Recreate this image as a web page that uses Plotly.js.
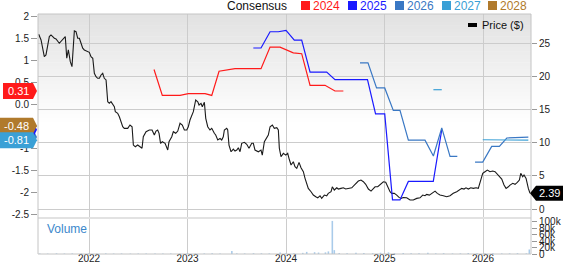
<!DOCTYPE html>
<html><head><meta charset="utf-8">
<script src="https://cdn.plot.ly/plotly-3.0.1.min.js"></script>
<style>html,body{margin:0;padding:0;background:#fff;overflow:hidden}#chart{width:565px;height:264px}</style>
</head><body><div id="chart"></div>
<script>
// ---------- DATA ----------
const priceYear = [2021.489,2021.513,2021.546,2021.563,2021.597,2021.614,2021.648,2021.665,2021.698,2021.726,2021.749,2021.759,2021.774,2021.790,2021.810,2021.827,2021.851,2021.868,2021.885,2021.902,2021.919,2021.936,2021.952,2021.970,
2022.003,2022.020,2022.038,2022.054,2022.071,2022.088,2022.105,2022.122,2022.139,2022.155,2022.173,2022.190,2022.206,2022.223,2022.241,2022.257,2022.267,2022.291,2022.308,2022.325,2022.342,2022.358,2022.393,2022.416,2022.437,2022.450,2022.470,2022.494,2022.511,2022.538,2022.551,2022.579,2022.612,2022.640,2022.663,2022.680,2022.697,2022.711,2022.726,2022.744,2022.772,2022.799,2022.812,2022.840,2022.856,2022.880,2022.901,2022.924,2022.947,2022.968,2022.992,
2023.008,2023.025,2023.043,2023.059,2023.083,2023.104,2023.117,2023.137,2023.150,2023.171,2023.185,2023.205,2023.228,2023.246,2023.272,2023.286,2023.307,2023.330,2023.347,2023.363,2023.374,2023.398,2023.408,2023.421,2023.442,2023.465,2023.482,2023.500,2023.516,2023.533,2023.550,2023.577,2023.601,2023.624,2023.652,2023.668,2023.685,2023.719,2023.746,2023.759,2023.780,2023.804,2023.820,2023.838,2023.861,2023.881,2023.906,2023.922,2023.932,2023.949,2023.973,2023.997,
2024.017,2024.030,2024.051,2024.074,2024.091,2024.109,2024.132,2024.152,2024.176,2024.193,2024.210,2024.226,2024.254,2024.277,2024.302,2024.322,2024.345,2024.362,2024.389,2024.413,2024.429,2024.457,2024.470,2024.490,2024.515,2024.531,2024.558,2024.582,2024.606,2024.632,2024.667,2024.701,2024.734,2024.761,2024.785,2024.809,2024.836,2024.863,2024.886,2024.904,2024.931,2024.954,2024.988,
2025.012,2025.039,2025.056,2025.073,2025.099,2025.124,2025.147,2025.168,2025.191,2025.225,2025.259,2025.292,2025.327,2025.360,2025.388,2025.411,2025.428,2025.455,2025.479,2025.496,2025.513,2025.536,2025.563,2025.597,2025.631,2025.665,2025.698,2025.733,2025.759,2025.784,2025.807,2025.827,2025.851,2025.875,2025.902,2025.929,2025.952,2025.970,2025.997,
2026.020,2026.044,2026.071,2026.098,2026.122,2026.145,2026.173,2026.190,2026.213,2026.234,2026.257,2026.274,2026.302,2026.325,2026.348,2026.369,2026.383,2026.403,2026.416,2026.437,2026.460,2026.477];
const priceUSD = [26.35,25.49,22.97,23.23,25.99,26.24,25.75,25.64,24.99,25.49,25.75,25.99,22.73,23.98,22.22,21.46,26.85,26.74,25.75,25.75,24.99,24.24,23.98,23.83,
23.63,22.97,22.73,20.47,19.95,19.71,19.71,20.21,20.47,19.71,19.46,16.18,15.94,16.18,15.69,15.43,14.68,14.43,13.92,13.17,12.41,12.17,12.17,12.67,12.41,9.65,9.40,9.65,9.40,9.16,10.90,11.66,11.92,11.92,11.16,11.76,11.92,11.42,9.91,10.15,9.91,8.90,10.15,10.90,11.66,11.42,11.76,12.93,12.67,11.92,11.92,
12.41,13.42,14.18,14.68,16.44,16.18,15.69,15.94,15.43,16.09,13.68,12.41,11.92,12.17,11.42,11.16,10.41,10.66,10.41,10.90,11.92,12.17,11.92,9.65,8.64,9.05,8.75,8.90,9.25,8.64,9.91,10.06,9.76,9.16,9.91,9.91,8.90,8.64,8.90,8.14,10.15,10.66,11.16,12.41,12.67,12.17,12.26,11.92,9.16,7.89,8.40,8.14,
8.40,7.65,6.64,7.13,6.38,6.14,7.04,6.23,5.63,4.63,3.62,3.12,2.61,2.11,1.86,1.70,2.01,1.61,2.11,2.01,2.37,2.61,3.36,2.87,3.21,3.02,3.12,3.21,3.02,3.12,3.21,3.73,4.22,4.37,4.12,3.73,3.02,2.71,3.12,3.36,3.36,3.62,4.12,
4.03,3.12,2.61,2.37,2.37,2.11,1.76,1.61,1.73,1.70,1.36,1.36,1.61,1.70,2.11,2.01,2.22,2.11,2.37,2.61,2.71,2.37,2.11,2.01,1.86,2.01,2.37,2.61,2.87,3.12,3.02,3.21,3.02,3.21,3.12,3.21,3.12,4.12,5.38,
5.63,5.88,5.63,5.73,5.63,5.23,4.87,4.52,3.62,3.12,3.36,3.62,3.88,3.73,4.03,4.37,5.38,4.87,5.13,4.63,3.12,2.39];

const eps2024Year = [2022.660,2022.744,2022.924,2023.008,2023.178,2023.246,2023.320,2023.482,2023.746,2023.838,2023.939,2023.990,2024.074,2024.159,2024.244,2024.396,2024.497,2024.582];
const eps2024 = [0.80,0.21,0.21,0.25,0.25,0.21,0.76,0.82,0.82,1.31,1.31,1.26,1.18,1.16,0.44,0.44,0.31,0.31];
const eps2025Year = [2023.668,2023.746,2023.838,2023.922,2024.000,2024.084,2024.159,2024.244,2024.413,2024.497,2024.827,2024.909,2025.002,2025.081,2025.157,2025.242,2025.495,2025.581];
const eps2025 = [1.29,1.29,1.66,1.66,1.69,1.47,1.47,0.74,0.74,0.57,0.57,-0.21,-0.21,-2.17,-2.17,-1.75,-1.75,-0.57];
const eps2026Year = [2024.751,2024.832,2024.919,2025.002,2025.089,2025.157,2025.242,2025.411,2025.496,2025.581,2025.665,2025.739,2025.830,2025.919,2025.997,2026.088,2026.166,2026.241,2026.460];
const eps2026 = [0.95,0.95,0.38,0.38,-0.13,-0.13,-0.81,-0.81,-1.17,-0.53,-1.18,-1.18,null,-1.31,-1.31,-0.95,-0.95,-0.76,-0.74];
const eps2027Year = [2025.496,2025.581,2025.790,2025.997,2026.460];
const eps2027 = [0.34,0.34,null,-0.80,-0.81];
const eps2028Year = [2026.460];
const eps2028 = [-0.48];

const volYear = [2021.50,2021.58,2021.67,2021.75,2021.83,2021.92,2022.00,2022.08,2022.17,2022.25,2022.33,2022.42,2022.50,2022.58,2022.67,2022.75,2022.83,2022.92,2023.00,2023.08,2023.17,2023.25,2023.33,2023.45,2023.50,2023.58,2023.67,2023.75,2023.83,2023.94,2024.00,2024.08,2024.17,2024.21,2024.29,2024.33,2024.40,2024.43,2024.47,2024.49,2024.54,2024.62,2024.71,2024.79,2024.88,2024.96,2025.04,2025.10,2025.19,2025.27,2025.35,2025.44,2025.52,2025.60,2025.69,2025.77,2025.85,2025.94,2026.02,2026.10,2026.19,2026.27,2026.35,2026.44,2026.47];
const volume = [1500,1200,2000,1500,1800,1300,2200,1600,1900,1400,1700,1300,1500,1800,1400,1200,1600,1300,3000,1500,1800,2500,1400,9000,2000,1700,2500,2200,1900,5000,2500,2000,3500,6500,5500,4500,5000,8000,102000,12000,3000,2500,3500,3000,2500,4000,5000,2500,3000,2000,2500,4000,2000,2500,1800,2000,3000,2500,2000,2200,1800,2000,2500,2000,14000];

const yearTicks = [2022,2023,2024,2025,2026];
const yearLabels = ['2022','2023','2024','2025','2026'];
const epsTickVals = [2,1.5,1,0.5,0,-0.5,-1,-1.5,-2,-2.5];
const epsTickText = ['2','1.5','1','0.5','0.0','-0.5','-1','-1.5','-2','-2.5'];
const priceTickVals = [0,5,10,15,20,25];
const priceTickText = ['0','5','10','15','20','25'];
const volTickVals = [0,20000,40000,60000,80000,100000];
const volTickText = ['0','20k','40k','60k','80k','100k'];
const seriesNames = ['2024','2025','2026','2027','2028'];
const legendTitle = 'Consensus';
const priceName = 'Price ($)';
const volumeName = 'Volume';

// ---------- STYLE ----------
const FONT = 'Liberation Sans, Arial, Helvetica, sans-serif';
const W = 565, H = 264, ML = 38, MR = 34, MT = 14, MB = 10;
const PW = W - ML - MR;
const fx = p => (p - ML) / PW;           // pixel -> paper x (layout positions only)
const seriesColors = ['#ff1a1a', '#1a1aff', '#3a78c4', '#3aa0d6', '#b07a2c'];
const volDomain = [0, 0.146], priceDomain = [0.154, 1];

const epsX = [eps2024Year, eps2025Year, eps2026Year, eps2027Year, eps2028Year];
const epsY = [eps2024, eps2025, eps2026, eps2027, eps2028];

const traces = [];
traces.push({type:'bar', x: volYear, y: volume, xaxis:'x', yaxis:'y3', width: 0.016,
  marker:{color:'#a9cbea', line:{width:0}}, hoverinfo:'skip', showlegend:false});
traces.push({type:'scatter', mode:'lines', x: priceYear, y: priceUSD, xaxis:'x', yaxis:'y',
  line:{color:'#1a1a1a', width:1.1}, hoverinfo:'skip', showlegend:false});
for (let i = 0; i < seriesNames.length; i++) {
  traces.push({type:'scatter', mode:'lines', name: seriesNames[i], x: epsX[i], y: epsY[i],
    xaxis:'x', yaxis:'y2', connectgaps:false,
    line:{color: seriesColors[i], width:1.2}, hoverinfo:'skip', showlegend:false});
}

const shapes = [];
// background gradient of the price panel
const nb = 30, gTop = 1, gBot = priceDomain[0] + (1 - priceDomain[0]) * 0.45;
for (let i = 0; i < nb; i++) {
  const y1 = gTop - i * (gTop - gBot) / nb;
  const y0 = y1 - (gTop - gBot) / nb - 0.002;
  const c = Math.round(226 + (255 - 226) * (i + 0.5) / nb);
  shapes.push({type:'rect', xref:'paper', yref:'paper', x0:0, x1:1, y0:y0, y1:y1,
    fillcolor:`rgb(${c},${c},${c})`, line:{width:0}, layer:'below'});
}
// separator between panels
shapes.push({type:'rect', xref:'paper', yref:'paper', x0:0, x1:1, y0:volDomain[1], y1:priceDomain[0],
  fillcolor:'#e2e2e2', line:{width:0}, layer:'below'});
// frame
shapes.push({type:'rect', xref:'paper', yref:'paper', x0:0, x1:1, y0:0, y1:1,
  fillcolor:'rgba(0,0,0,0)', line:{color:'#c4c4c4', width:1}, layer:'above'});

const annotations = [];
// left consensus tags (hidden ones first)
const lastVal = arr => { for (let k = arr.length - 1; k >= 0; k--) if (arr[k] !== null) return arr[k]; return null; };
const tagOrder = [2, 1, 4, 3, 0];
const tagHasText = [true, false, false, true, true];
tagOrder.forEach(i => {
  const v = lastVal(epsY[i]);
  const txt = v.toFixed(2);
  const left = -(23 + 3 * txt.length);
  shapes.push({type:'path', xref:'paper', yref:'y2', xsizemode:'pixel', ysizemode:'pixel',
    xanchor:0, yanchor:v,
    path:`M ${left},-8 L -5,-8 L -1,0 L -5,8 L ${left},8 Z`,
    fillcolor: seriesColors[i], line:{width:0}, layer:'above'});
  if (tagHasText[i]) {
    annotations.push({xref:'paper', yref:'y2', x:0, y:v, xshift:(left - 5) / 2, showarrow:false,
      text: txt, font:{family:FONT, size:11, color:'#ffffff'}, xanchor:'center', yanchor:'middle'});
  }
});
// right price tag
const lastPrice = priceUSD[priceUSD.length - 1];
shapes.push({type:'path', xref:'paper', yref:'y', xsizemode:'pixel', ysizemode:'pixel',
  xanchor:1, yanchor:lastPrice, path:'M -1,0 L 5,-7.5 L 32,-7.5 L 32,7.5 L 5,7.5 Z',
  fillcolor:'#000000', line:{width:0}, layer:'above'});
annotations.push({xref:'paper', yref:'y', x:1, y:lastPrice, xshift:18.5, showarrow:false,
  text: lastPrice.toFixed(2), font:{family:FONT, size:11, color:'#ffffff'}, xanchor:'center', yanchor:'middle'});

// top legend
annotations.push({xref:'paper', yref:'paper', x:fx(227), y:1, yshift:8.5, xanchor:'left', yanchor:'middle',
  showarrow:false, text:legendTitle, font:{family:FONT, size:12, color:'#111'}, borderpad:0, borderwidth:0});
const legTextX = [313, 360, 407, 454, 500];
seriesNames.forEach((n, i) => {
  shapes.push({type:'rect', xref:'paper', yref:'paper', xsizemode:'pixel', ysizemode:'pixel',
    xanchor:fx(legTextX[i] - 12), yanchor:1, x0:0, x1:9, y0:4, y1:13,
    fillcolor:seriesColors[i], line:{width:0}, layer:'above'});
  annotations.push({xref:'paper', yref:'paper', x:fx(legTextX[i]), y:1, yshift:8.5, xanchor:'left', yanchor:'middle',
    showarrow:false, text:n, font:{family:FONT, size:12, color:seriesColors[i]}, borderpad:0, borderwidth:0});
});
// price legend inside plot
shapes.push({type:'rect', xref:'paper', yref:'paper', xsizemode:'pixel', ysizemode:'pixel',
  xanchor:fx(468), yanchor:1, x0:0, x1:9, y0:-9, y1:-13, fillcolor:'#000', line:{width:0}, layer:'above'});
annotations.push({xref:'paper', yref:'paper', x:fx(482), y:1, yshift:-11, xanchor:'left', yanchor:'middle',
  showarrow:false, text:priceName, font:{family:FONT, size:11, color:'#111'}, borderpad:0, borderwidth:0});
// volume label
annotations.push({xref:'paper', yref:'paper', x:fx(47), y:volDomain[1], yshift:-10, xanchor:'left', yanchor:'middle',
  showarrow:false, text:volumeName, font:{family:FONT, size:12, color:'#3b88cc'}, borderpad:0, borderwidth:0});

const tickFont = {family:FONT, size:10, color:'#222'};
const layout = {
  width:W, height:H, margin:{l:ML, r:MR, t:MT, b:MB, pad:0},
  paper_bgcolor:'#ffffff', plot_bgcolor:'rgba(0,0,0,0)', showlegend:false,
  font:{family:FONT, size:10, color:'#222'},
  xaxis:{range:[2021.482, 2026.487], tickmode:'array', tickvals:yearTicks, ticktext:yearLabels,
    showgrid:true, gridcolor:'#cccccc', gridwidth:1, ticks:'', showline:false, zeroline:false,
    anchor:'y3', tickfont:tickFont, automargin:false, fixedrange:true, ticklabelstandoff:-3},
  yaxis:{domain:priceDomain, range:[-1.2, 29.4], side:'right', anchor:'x', tickmode:'array',
    tickvals:priceTickVals, ticktext:priceTickText, showgrid:true, gridcolor:'#cccccc', gridwidth:1,
    ticks:'outside', ticklen:5, tickcolor:'#999', zeroline:false, showline:false, tickfont:tickFont, automargin:false},
  yaxis2:{overlaying:'y', side:'left', anchor:'x', range:[-2.56, 2.064], tickmode:'array',
    tickvals:epsTickVals, ticktext:epsTickText, showgrid:false, ticks:'outside', ticklen:6, tickcolor:'#999',
    zeroline:false, showline:false, tickfont:tickFont, automargin:false},
  yaxis3:{domain:volDomain, range:[0, 108000], side:'right', anchor:'x', tickmode:'array',
    tickvals:volTickVals, ticktext:volTickText, showgrid:false, ticks:'outside', ticklen:5, tickcolor:'#999',
    zeroline:false, showline:false, tickfont:tickFont, automargin:false},
  shapes:shapes, annotations:annotations
};
Plotly.newPlot('chart', traces, layout, {staticPlot:true, displayModeBar:false});
</script>
</body></html>
